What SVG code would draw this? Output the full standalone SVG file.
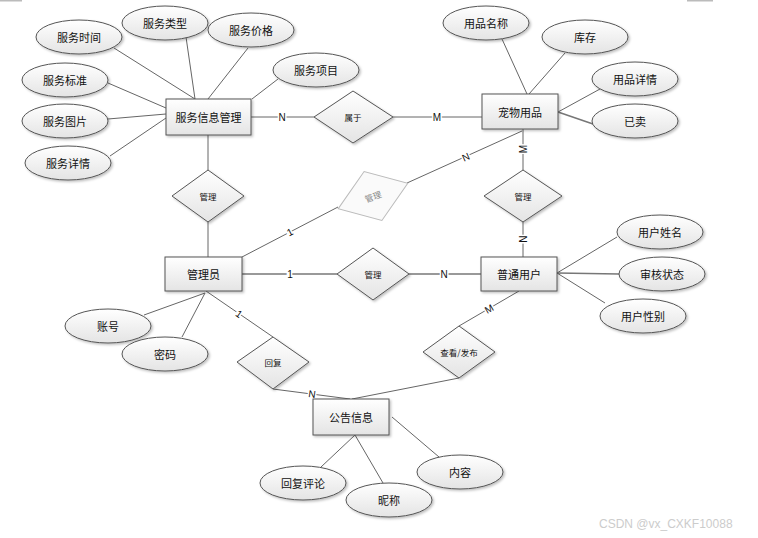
<svg xmlns="http://www.w3.org/2000/svg" width="758" height="538" viewBox="0 0 758 538">
<defs>
<linearGradient id="g" x1="0" y1="0" x2="0" y2="1">
<stop offset="0" stop-color="#ffffff"/>
<stop offset="1" stop-color="#e4e4e4"/>
</linearGradient>
<filter id="sh" x="-10%" y="-10%" width="130%" height="140%">
<feDropShadow dx="1.5" dy="1.5" stdDeviation="0.8" flood-color="#000" flood-opacity="0.25"/>
</filter>
<style>
.ent{fill:url(#g);stroke:#555;stroke-width:1;filter:url(#sh)}
.att{fill:url(#g);stroke:#555;stroke-width:1;filter:url(#sh)}
.rel{fill:url(#g);stroke:#555;stroke-width:1;filter:url(#sh)}
.relg{fill:#fafafa;stroke:#bbb;stroke-width:1}
text{font-family:"Noto Sans CJK SC","Liberation Sans",sans-serif;fill:#111;text-anchor:middle;dominant-baseline:central}
.t{font-size:11px}
.r{font-size:8.5px}
.rg{font-size:8.5px;fill:#888}
.lbl{font-size:10px;font-family:"Liberation Sans",sans-serif;paint-order:stroke;stroke:#fff;stroke-width:3px}
.c line,.c polyline{stroke:#666;stroke-width:1;fill:none}
.c .thick{stroke:#777;stroke-width:1.6}
.wm{font-family:"Liberation Sans",sans-serif;font-size:12px;fill:#ccc;text-anchor:start}
</style>
</defs>
<rect x="0" y="0" width="758" height="538" fill="#fff"/>
<rect x="0" y="0" width="22" height="1.5" fill="#bbb"/>
<rect x="687" y="0" width="26" height="1.5" fill="#bbb"/>

<g id="connectors" class="c">
<line x1="114" y1="48" x2="195" y2="99"/>
<line x1="186" y1="37" x2="195" y2="99"/>
<line x1="248" y1="48" x2="208" y2="99"/>
<line x1="108" y1="83" x2="166" y2="108"/>
<line x1="108" y1="119" x2="166" y2="114"/>
<line x1="110" y1="156" x2="166" y2="118"/>
<line x1="278" y1="79" x2="252" y2="99"/>
<line x1="251" y1="117" x2="314" y2="117"/>
<line x1="393" y1="117" x2="482" y2="117"/>
<line x1="502" y1="39" x2="527" y2="94"/>
<line x1="565" y1="53" x2="529" y2="94"/>
<line x1="600" y1="89" x2="558" y2="112"/>
<line x1="558" y1="112" x2="593" y2="124" class="thick"/>
<line x1="208" y1="135" x2="208" y2="170"/>
<line x1="208" y1="222" x2="208" y2="257"/>
<line x1="242" y1="257" x2="338" y2="207"/>
<line x1="407" y1="183" x2="522" y2="131"/>
<line x1="523" y1="129" x2="523" y2="170"/>
<line x1="523" y1="222" x2="523" y2="257"/>
<line x1="242" y1="274" x2="337" y2="274" class="thick"/>
<line x1="409" y1="274" x2="481" y2="274" class="thick"/>
<line x1="557" y1="273" x2="617" y2="237"/>
<line x1="557" y1="273" x2="619" y2="274" class="thick"/>
<line x1="557" y1="273" x2="605" y2="303"/>
<line x1="144" y1="315" x2="205" y2="293"/>
<line x1="182" y1="337" x2="205" y2="293"/>
<line x1="206" y1="291" x2="273" y2="337"/>
<line x1="273" y1="389" x2="350" y2="399"/>
<line x1="459" y1="326" x2="519" y2="291"/>
<line x1="459" y1="378" x2="352" y2="399"/>
<line x1="321" y1="467" x2="355" y2="435"/>
<line x1="383" y1="483" x2="355" y2="435"/>
<line x1="439" y1="457" x2="392" y2="417"/>
<text class="lbl" x="282" y="117">N</text>
<text class="lbl" x="437" y="117">M</text>
<text class="lbl" x="523" y="149" transform="rotate(-90 523 149)">M</text>
<text class="lbl" x="523" y="239" transform="rotate(-90 523 239)">N</text>
<text class="lbl" x="466" y="157" transform="rotate(-24 466 157)">N</text>
<text class="lbl" x="290" y="232" transform="rotate(-27 290 232)">1</text>
<text class="lbl" x="290" y="274">1</text>
<text class="lbl" x="444" y="274">N</text>
<text class="lbl" x="489" y="309" transform="rotate(-30 489 309)">M</text>
<text class="lbl" x="239" y="314" transform="rotate(35 239 314)">1</text>
<text class="lbl" x="312" y="394" transform="rotate(8 312 394)">N</text>
</g>

<g id="e-service"><rect class="ent" x="166" y="99" width="85" height="36"/><text class="t" x="208.5" y="117">服务信息管理</text></g>
<g id="e-pet"><rect class="ent" x="482" y="94" width="76" height="35"/><text class="t" x="520" y="111.5">宠物用品</text></g>
<g id="e-admin"><rect class="ent" x="165" y="257" width="77" height="34"/><text class="t" x="203.5" y="274">管理员</text></g>
<g id="e-user"><rect class="ent" x="481" y="257" width="76" height="34"/><text class="t" x="519" y="274">普通用户</text></g>
<g id="e-notice"><rect class="ent" x="313" y="399" width="76" height="36"/><text class="t" x="351" y="417">公告信息</text></g>

<g id="a-time"><ellipse class="att" cx="79" cy="37" rx="43" ry="17"/><text class="t" x="79" y="37">服务时间</text></g>
<g id="a-type"><ellipse class="att" cx="165" cy="23" rx="43" ry="17"/><text class="t" x="165" y="23">服务类型</text></g>
<g id="a-price"><ellipse class="att" cx="251" cy="30" rx="43" ry="17"/><text class="t" x="251" y="30">服务价格</text></g>
<g id="a-std"><ellipse class="att" cx="65" cy="80" rx="43" ry="17"/><text class="t" x="65" y="80">服务标准</text></g>
<g id="a-img"><ellipse class="att" cx="65" cy="121" rx="43" ry="17"/><text class="t" x="65" y="121">服务图片</text></g>
<g id="a-detail"><ellipse class="att" cx="68" cy="163" rx="43" ry="17"/><text class="t" x="68" y="163">服务详情</text></g>
<g id="a-item"><ellipse class="att" cx="316" cy="70" rx="43" ry="17"/><text class="t" x="316" y="70">服务项目</text></g>
<g id="a-pname"><ellipse class="att" cx="486" cy="23" rx="43" ry="17"/><text class="t" x="486" y="23">用品名称</text></g>
<g id="a-stock"><ellipse class="att" cx="585" cy="37" rx="43" ry="17"/><text class="t" x="585" y="37">库存</text></g>
<g id="a-pdetail"><ellipse class="att" cx="635" cy="79" rx="43" ry="17"/><text class="t" x="635" y="79">用品详情</text></g>
<g id="a-sold"><ellipse class="att" cx="635" cy="121" rx="43" ry="17"/><text class="t" x="635" y="121">已卖</text></g>
<g id="a-uname"><ellipse class="att" cx="660" cy="232" rx="43" ry="17"/><text class="t" x="660" y="232">用户姓名</text></g>
<g id="a-audit"><ellipse class="att" cx="662" cy="274" rx="43" ry="17"/><text class="t" x="662" y="274">审核状态</text></g>
<g id="a-gender"><ellipse class="att" cx="643" cy="316" rx="43" ry="17"/><text class="t" x="643" y="316">用户性别</text></g>
<g id="a-account"><ellipse class="att" cx="108" cy="326" rx="43" ry="17"/><text class="t" x="108" y="326">账号</text></g>
<g id="a-pwd"><ellipse class="att" cx="165" cy="354" rx="43" ry="17"/><text class="t" x="165" y="354">密码</text></g>
<g id="a-reply"><ellipse class="att" cx="303" cy="483" rx="43" ry="17"/><text class="t" x="303" y="483">回复评论</text></g>
<g id="a-nick"><ellipse class="att" cx="389" cy="500" rx="43" ry="17"/><text class="t" x="389" y="500">昵称</text></g>
<g id="a-content"><ellipse class="att" cx="460" cy="472" rx="43" ry="17"/><text class="t" x="460" y="472">内容</text></g>

<g id="r-belong"><polygon class="rel" points="314,117 353,91 393,117 353,143"/><text class="r" x="353" y="117">属于</text></g>
<g id="r-manage1"><polygon class="rel" points="172,196 208,170 244,196 208,222"/><text class="r" x="208" y="196">管理</text></g>
<g id="r-manage2" transform="rotate(-20 373 196)"><polygon class="relg" points="336,196 373,170 410,196 373,222"/><text class="rg" x="373" y="196">管理</text></g>
<g id="r-manage3"><polygon class="rel" points="484,196 523,170 562,196 523,222"/><text class="r" x="523" y="196">管理</text></g>
<g id="r-manage4"><polygon class="rel" points="337,274 373,248 409,274 373,300"/><text class="r" x="373" y="274">管理</text></g>
<g id="r-view"><polygon class="rel" points="423,352 459,326 495,352 459,378"/><text class="r" x="459" y="352">查看/发布</text></g>
<g id="r-reply"><polygon class="rel" points="237,362 273,337 309,362 273,389"/><text class="r" x="273" y="362">回复</text></g>

<text class="wm" x="599" y="524">CSDN @vx_CXKF10088</text>
</svg>
